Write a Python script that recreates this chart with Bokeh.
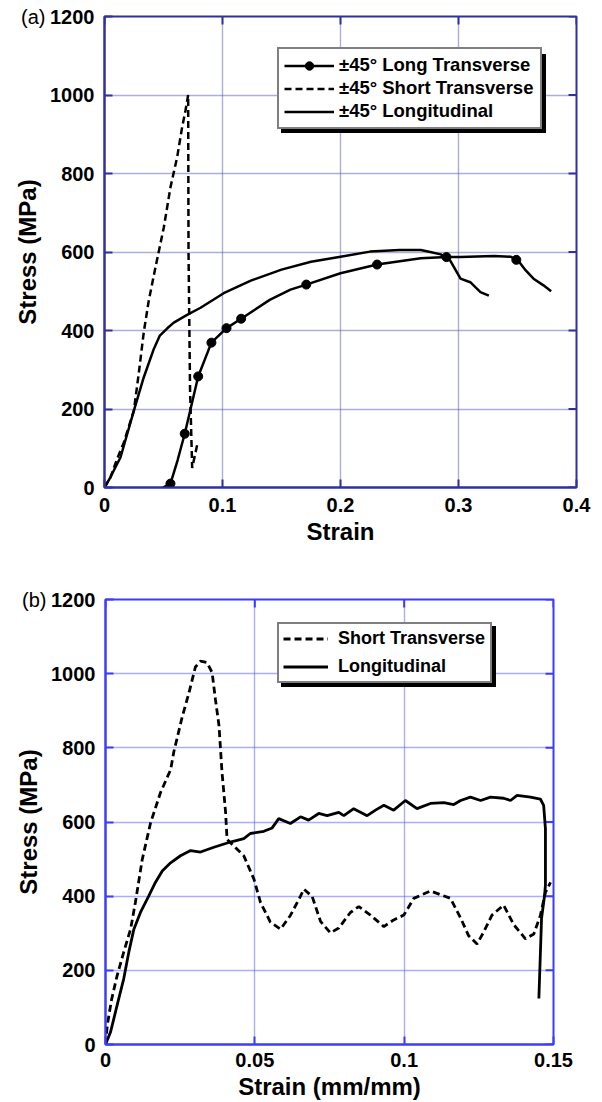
import math
from bokeh.plotting import figure
from bokeh.models import Legend, LegendItem, LinearAxis, FixedTicker, Range1d
from bokeh.embed import file_html
from bokeh.resources import INLINE

# ---------------- data: panel (a) ----------------
a_xticks = [0, 0.1, 0.2, 0.3, 0.4]
a_xticklabels = ["0", "0.1", "0.2", "0.3", "0.4"]
yticks = [0, 200, 400, 600, 800, 1000, 1200]
yticklabels = ["0", "200", "400", "600", "800", "1000", "1200"]

a_lt_strain = [0.0497, 0.0559, 0.062, 0.068, 0.0794, 0.0906, 0.1034, 0.1158, 0.14, 0.1576,
               0.171, 0.2, 0.231, 0.268, 0.29, 0.3017, 0.33, 0.344, 0.35, 0.357, 0.3636,
               0.372, 0.3785]
a_lt_stress = [0, 10, 70, 137, 283, 369, 406, 430, 478, 504, 517, 546, 568, 584, 587, 587,
               590, 588, 580, 553, 532, 515, 500]
a_lt_mark_strain = [0.0559, 0.068, 0.0794, 0.0906, 0.1034, 0.1158, 0.171, 0.231, 0.2898, 0.349]
a_lt_mark_stress = [10, 137, 283, 369, 406, 430, 517, 568, 587, 580]

a_st_strain = [0, 0.0051, 0.0107, 0.0164, 0.0249, 0.029, 0.0333, 0.0375, 0.0432, 0.0503,
               0.0559, 0.0616, 0.0658, 0.0686, 0.0709, 0.0712, 0.0725, 0.0743, 0.0765, 0.079]
a_st_stress = [0, 26, 73, 115, 196, 290, 396, 476, 561, 663, 765, 842, 918, 960, 1000, 600,
               250, 50, 80, 115]

a_lg_strain = [0, 0.005, 0.0136, 0.0249, 0.0333, 0.0418, 0.0469, 0.053, 0.0587, 0.07, 0.0814,
               0.101, 0.124, 0.15, 0.175, 0.2, 0.225, 0.25, 0.268, 0.276, 0.285, 0.293,
               0.3017, 0.31, 0.3186, 0.3257]
a_lg_stress = [0, 26, 77, 196, 281, 353, 387, 405, 420, 440, 458, 495, 527, 555, 575, 588,
               601, 605, 605, 600, 594, 578, 532, 523, 498, 489]

# ---------------- data: panel (b) ----------------
b_xticks = [0, 0.05, 0.1, 0.15]
b_xticklabels = ["0", "0.05", "0.1", "0.15"]

b_st_strain = [0, 0.0006, 0.002, 0.0039, 0.0061, 0.0084, 0.01, 0.0123, 0.0151, 0.0184, 0.0218,
               0.0229, 0.0257, 0.0279, 0.0301, 0.0318, 0.034, 0.0357, 0.0368, 0.038, 0.039,
               0.0402, 0.0407, 0.0429, 0.0463, 0.0497, 0.0519, 0.0552, 0.0586, 0.0619, 0.0653,
               0.0664, 0.0692, 0.072, 0.0753, 0.0781, 0.082, 0.0848, 0.0887, 0.0932, 0.0965,
               0.0999, 0.1032, 0.1088, 0.1155, 0.1189, 0.1216, 0.1244, 0.1266, 0.1294, 0.1333,
               0.1367, 0.1406, 0.1434, 0.1456, 0.1473, 0.149]
b_st_stress = [0, 52, 120, 186, 249, 311, 383, 499, 598, 679, 741, 790, 884, 947, 1018, 1034,
               1030, 1003, 931, 860, 735, 627, 553, 536, 509, 446, 383, 330, 311, 348, 400,
               419, 399, 332, 301, 314, 356, 372, 349, 318, 336, 349, 394, 414, 394, 341, 293,
               271, 303, 349, 376, 323, 285, 298, 348, 410, 437]

b_lg_strain = [0, 0.0017, 0.0039, 0.0061, 0.0078, 0.0095, 0.0117, 0.0145, 0.0167, 0.019, 0.0218,
               0.0251, 0.0285, 0.0318, 0.0363, 0.0418, 0.0463, 0.0485, 0.053, 0.0558, 0.058,
               0.0619, 0.0653, 0.068, 0.0714, 0.0742, 0.0781, 0.0798, 0.0831, 0.0876, 0.0904,
               0.0932, 0.0965, 0.1004, 0.1043, 0.1088, 0.1133, 0.1166, 0.1189, 0.1222, 0.1256,
               0.1289, 0.1333, 0.1356, 0.1378, 0.1423, 0.1456, 0.1467, 0.1473, 0.1473, 0.147,
               0.146, 0.1451]
b_lg_stress = [0, 34, 106, 177, 249, 311, 356, 401, 437, 468, 490, 509, 523, 519, 532, 546,
               555, 569, 575, 584, 609, 596, 614, 605, 623, 617, 626, 617, 636, 617, 632, 645,
               632, 658, 636, 650, 652, 647, 658, 667, 658, 667, 664, 658, 672, 667, 662, 645,
               582, 430, 401, 340, 124]

FONT = "Liberation Sans"


def make_panel(width, height, borders, xmax, xticks, xlabels, xtitle, frame_col, grid_col,
               tag, x_std, x_title_std):
    bl, br, bt, bb = borders
    p = figure(width=width, height=height, output_backend="svg", toolbar_location=None,
               x_range=Range1d(0, xmax), y_range=Range1d(0, 1200),
               min_border_left=bl, min_border_right=br, min_border_top=bt, min_border_bottom=bb)
    p.outline_line_color = frame_col
    p.outline_line_width = 2
    p.background_fill_color = "white"
    xt = FixedTicker(ticks=xticks)
    yt = FixedTicker(ticks=yticks)
    p.xaxis.ticker = xt
    p.yaxis.ticker = yt
    p.xaxis.major_label_overrides = {t: l for t, l in zip(xticks, xlabels)}
    p.yaxis.major_label_overrides = {t: l for t, l in zip(yticks, yticklabels)}
    for ax in (p.xaxis, p.yaxis):
        ax.axis_line_color = frame_col
        ax.axis_line_width = 2
        ax.major_tick_line_color = frame_col
        ax.major_tick_line_width = 2
        ax.major_tick_in = 8
        ax.major_tick_out = 0
        ax.minor_tick_line_color = None
        ax.major_label_text_font = FONT
        ax.major_label_text_font_style = "bold"
        ax.major_label_text_font_size = "20px"
        ax.major_label_text_color = "black"
        ax.axis_label_text_font = FONT
        ax.axis_label_text_font_style = "bold"
        ax.axis_label_text_font_size = "24px"
        ax.axis_label_text_color = "black"
    p.yaxis.major_label_standoff = 10
    p.yaxis.axis_label_standoff = 0
    p.xaxis.major_label_standoff = x_std
    p.xaxis.axis_label_standoff = x_title_std
    p.xaxis.axis_label = xtitle
    # outer left axis: carries the panel tag beside "1200" and the y title
    tag_axis = LinearAxis(ticker=FixedTicker(ticks=[1200]), major_label_overrides={1200: tag},
                          axis_line_color=None, major_tick_line_color=None,
                          minor_tick_line_color=None, major_tick_in=0, major_tick_out=0,
                          major_label_standoff=2, major_label_text_font=FONT,
                          major_label_text_font_style="normal",
                          major_label_text_font_size="20px", major_label_text_color="black",
                          axis_label="Stress (MPa)", axis_label_text_font=FONT,
                          axis_label_text_font_style="bold", axis_label_text_font_size="24px",
                          axis_label_text_color="black", axis_label_standoff=-23)
    p.add_layout(tag_axis, "left")
    p.xgrid.ticker = xt
    p.ygrid.ticker = yt
    for g in (p.xgrid, p.ygrid):
        g.grid_line_color = grid_col
        g.grid_line_dash = "1 1"
        g.grid_line_width = 1.4
    # inward ticks on the right and top edges of the frame
    p.ray(x=[xmax] * len(yticks), y=yticks, length=8, length_units="screen", angle=math.pi,
          line_color=frame_col, line_width=2)
    p.ray(x=xticks, y=[1200] * len(xticks), length=8, length_units="screen",
          angle=-math.pi / 2, line_color=frame_col, line_width=2)
    return p


def add_legend(p, items_spec, loc, font_size, glyph_w, label_h, label_w, spacing, padding,
               standoff):
    for shadow in (True, False):
        items = [LegendItem(label=(" " if shadow else lab), renderers=rs)
                 for lab, rs in items_spec]
        lx, ly = loc
        leg = Legend(items=items, location=(lx + 4, ly - 4) if shadow else (lx, ly),
                     background_fill_color="black" if shadow else "white",
                     background_fill_alpha=1.0,
                     border_line_color="black", border_line_width=2,
                     label_text_font=FONT, label_text_font_style="bold",
                     label_text_font_size=font_size,
                     label_text_color="black",
                     glyph_width=glyph_w, glyph_height=label_h, label_height=label_h,
                     label_width=label_w,
                     spacing=spacing, padding=padding, margin=0, label_standoff=standoff)
        p.add_layout(leg, "center")


# ---------------- panel (a) ----------------
pa = make_panel(602, 551, (104, 26, 16, 64), 0.4, a_xticks, a_xticklabels, "Strain",
                "#3030a0", "#5c5cb8", "(a)", 10, 3)
r_lt = pa.line(a_lt_strain, a_lt_stress, line_color="black", line_width=2.5)
r_ltm = pa.scatter(a_lt_mark_strain, a_lt_mark_stress, marker="circle", size=9,
                   fill_color="black", line_color="black")
r_st = pa.line(a_st_strain, a_st_stress, line_color="black", line_width=2.5, line_dash="7 4")
r_lg = pa.line(a_lg_strain, a_lg_stress, line_color="black", line_width=2.5)
add_legend(pa, [("±45° Long Transverse", [r_lt, r_ltm]),
                ("±45° Short Transverse", [r_st]),
                ("±45° Longitudinal", [r_lg])],
           (173, 358), "18.5px", 50, 21, 196, 1, 5, 5)

# ---------------- panel (b) ----------------
pb = make_panel(602, 551, (105, 49, 48, 56), 0.15, b_xticks, b_xticklabels, "Strain (mm/mm)",
                "#3c3cff", "#5a5aff", "(b)", 8, 3)
r_bst = pb.line(b_st_strain, b_st_stress, line_color="black", line_width=2.8, line_dash="7 4")
r_blg = pb.line(b_lg_strain, b_lg_stress, line_color="black", line_width=2.8)
add_legend(pb, [("Short Transverse", [r_bst]), ("Longitudinal", [r_blg])],
           (172, 361), "18px", 45, 21, 148, 7, 4, 10)

open("out.html", "w").write(file_html([pa, pb], INLINE))
